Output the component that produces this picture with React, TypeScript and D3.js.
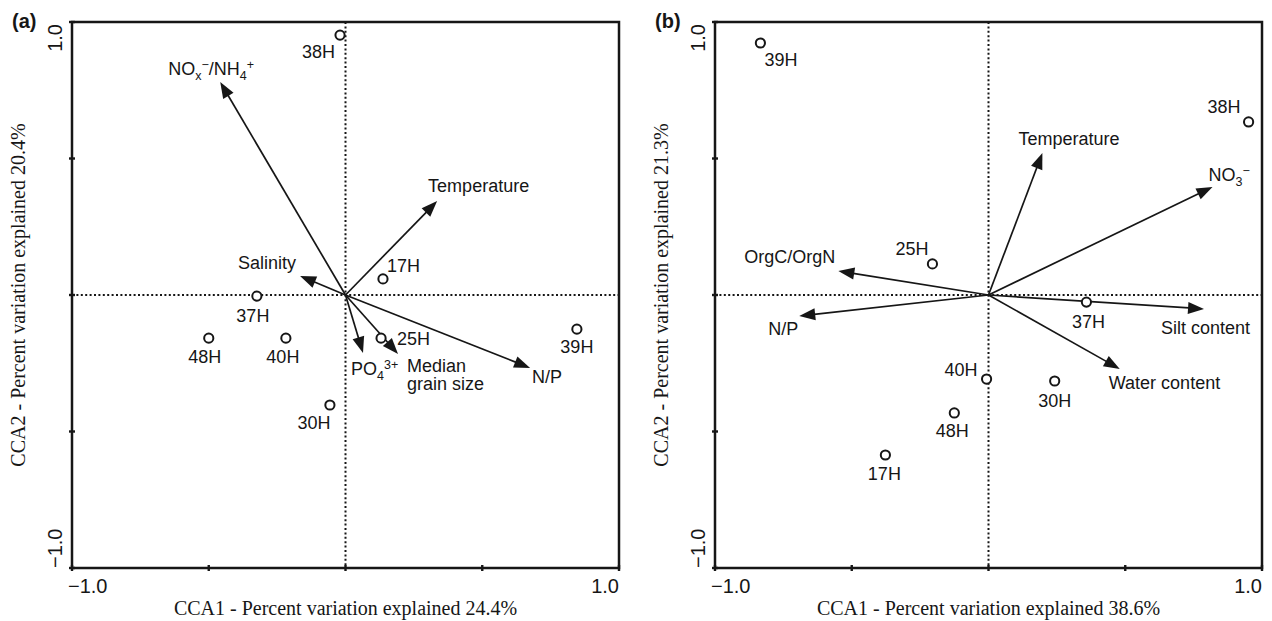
import React from 'react';
import * as d3 from 'd3';

// ---- data ----
const sitesA = ['38H', '17H', '37H', '48H', '40H', '30H', '25H', '39H'];
const siteXA = [-0.02, 0.137, -0.324, -0.5, -0.218, -0.057, 0.13, 0.846];
const siteYA = [0.952, 0.059, -0.004, -0.158, -0.158, -0.403, -0.158, -0.125];

const envA = ['NO_{x}^{−}/NH_{4}^{+}', 'Temperature', 'Salinity', 'PO_{4}^{3+}', 'Median|grain size', 'N/P'];
const envXA = [-0.458, 0.335, -0.166, 0.064, 0.192, 0.675];
const envYA = [0.78, 0.344, 0.07, -0.212, -0.216, -0.267];

const sitesB = ['39H', '38H', '25H', '37H', '40H', '30H', '48H', '17H'];
const siteXB = [-0.834, 0.951, -0.205, 0.358, -0.007, 0.242, -0.125, -0.377];
const siteYB = [0.923, 0.634, 0.114, -0.026, -0.308, -0.315, -0.432, -0.586];

const envB = ['Temperature', 'NO_{3}^{−}', 'OrgC/OrgN', 'N/P', 'Silt content', 'Water content'];
const envXB = [0.197, 0.819, -0.549, -0.692, 0.788, 0.48];
const envYB = [0.52, 0.396, 0.088, -0.077, -0.051, -0.271];

const tickValues = [-1, -0.5, 0, 0.5, 1];
const tickLabels = ['−1.0', '1.0'];

// label placement: [dx, dy, anchor] in pixels from the mark
type Place = [number, number, 'start' | 'middle' | 'end'];
const sitePlaceA: Place[] = [[-5, 23, 'end'], [4, -7, 'start'], [-4, 26, 'middle'], [-4, 25, 'middle'], [-3, 25, 'middle'], [-16, 24, 'middle'], [16, 7, 'start'], [0, 24, 'middle']];
const envPlaceA: Place[] = [[-52, -7, 'start'], [-9, -9, 'start'], [-4, -7, 'end'], [-12, 22, 'start'], [9, 18, 'start'], [2, 15, 'start']];
const sitePlaceB: Place[] = [[4, 23, 'start'], [-8, -9, 'end'], [-4, -9, 'end'], [2, 26, 'middle'], [-9, -3, 'end'], [0, 26, 'middle'], [-2, 24, 'middle'], [-1, 25, 'middle']];
const envPlaceB: Place[] = [[-24, -8, 'start'], [-4, -6, 'start'], [-3, -8, 'end'], [-31, 19, 'start'], [-43, 25, 'start'], [-11, 20, 'start']];

const SANS = '"Liberation Sans", Arial, sans-serif';
const SERIF = '"Liberation Serif", "Times New Roman", serif';
const INK = '#161616';
const SIZE = 547;
const TOP = 22;
const LABEL = 18;

// turns "NO_{x}^{−}" into tspans with sub/superscripts
const RichLine = ({ s }: { s: string }) => {
  const parts: { t: string; k: number }[] = [];
  const re = /([_^])\{([^}]*)\}|([^_^]+)/g;
  let m;
  while ((m = re.exec(s))) {
    if (m[3]) parts.push({ t: m[3], k: 0 });
    else parts.push({ t: m[2], k: m[1] === '_' ? 1 : -1 });
  }
  let level = 0;
  return (
    <>
      {parts.map((p, i) => {
        const target = p.k === 1 ? 5 : p.k === -1 ? -6 : 0;
        const dy = target - level;
        level = target;
        return (
          <tspan key={i} dy={dy} fontSize={p.k ? 12.5 : undefined}>
            {p.t}
          </tspan>
        );
      })}
    </>
  );
};

const Panel = ({ left, tag, xTitle, yTitle, sites, sx, sy, env, ex, ey, sitePlace, envPlace }: any) => {
  const x = d3.scaleLinear().domain([-1, 1]).range([left, left + SIZE]);
  const y = d3.scaleLinear().domain([-1, 1]).range([TOP + SIZE - 1, TOP]);
  const x0 = x(0);
  const y0 = y(0);
  const bottom = y(-1);
  const right = x(1);

  const arrows = env.map((name: string, i: number) => {
    const tx = x(ex[i]);
    const ty = y(ey[i]);
    const len = Math.hypot(tx - x0, ty - y0);
    const ux = (tx - x0) / len;
    const uy = (ty - y0) / len;
    const L = 16;
    const W = 6;
    const bx = tx - L * ux;
    const by = ty - L * uy;
    const head = [
      [tx, ty],
      [bx - W * uy, by + W * ux],
      [bx + W * uy, by - W * ux],
    ];
    const [dx, dy, anchor] = envPlace[i];
    const lines = name.split('|');
    return (
      <g key={name}>
        <line x1={x0} y1={y0} x2={bx + ux} y2={by + uy} stroke={INK} strokeWidth={1.7} />
        <polygon points={head.map((p) => p.join(',')).join(' ')} fill={INK} />
        <text x={tx + dx} y={ty + dy} textAnchor={anchor} fontSize={LABEL} fontFamily={SANS} fill={INK}>
          {lines.length === 1 ? (
            <RichLine s={lines[0]} />
          ) : (
            lines.map((l, j) => (
              <tspan key={j} x={tx + dx} dy={j === 0 ? 0 : 18}>
                {l}
              </tspan>
            ))
          )}
        </text>
      </g>
    );
  });

  return (
    <g>
      {/* dotted zero lines */}
      <line x1={left} x2={right} y1={y0} y2={y0} stroke={INK} strokeWidth={2} strokeDasharray="2,2.4" />
      <line x1={x0} x2={x0} y1={TOP} y2={bottom} stroke={INK} strokeWidth={2} strokeDasharray="2,2.4" />

      {/* frame */}
      <rect x={left} y={TOP} width={SIZE} height={bottom - TOP} fill="none" stroke={INK} strokeWidth={2.5} />

      {/* ticks */}
      {tickValues.map((v) => (
        <g key={v}>
          <line x1={x(v)} x2={x(v)} y1={bottom - 3} y2={bottom + 3} stroke={INK} strokeWidth={2.4} />
          <line x1={left - 3} x2={left + 3} y1={y(v)} y2={y(v)} stroke={INK} strokeWidth={2.4} />
        </g>
      ))}

      {/* tick labels */}
      <text x={left - 4} y={bottom + 25} fontSize={20} fontFamily={SANS} fill={INK}>{tickLabels[0]}</text>
      <text x={right} y={bottom + 25} fontSize={20} fontFamily={SANS} fill={INK} textAnchor="end">{tickLabels[1]}</text>
      <text transform={`translate(${left - 10},${bottom}) rotate(-90)`} fontSize={20} fontFamily={SANS} fill={INK}>{tickLabels[0]}</text>
      <text transform={`translate(${left - 10},${TOP + 2}) rotate(-90)`} fontSize={20} fontFamily={SANS} fill={INK} textAnchor="end">{tickLabels[1]}</text>

      {/* axis titles */}
      <text x={x0} y={bottom + 47} textAnchor="middle" fontSize={20} fontFamily={SERIF} fill={INK}>{xTitle}</text>
      <text transform={`translate(${left - 47},${y0}) rotate(-90)`} textAnchor="middle" fontSize={20} fontFamily={SERIF} fill={INK}>{yTitle}</text>

      {/* panel tag */}
      <text x={left - 60} y={28} fontSize={20} fontWeight="bold" fontFamily={SANS} fill={INK}>{tag}</text>

      {arrows}

      {/* sites */}
      {sites.map((s: string, i: number) => {
        const cx = x(sx[i]);
        const cy = y(sy[i]);
        const [dx, dy, anchor] = sitePlace[i];
        return (
          <g key={s}>
            <circle cx={cx} cy={cy} r={4.6} fill="white" stroke={INK} strokeWidth={2} />
            <text x={cx + dx} y={cy + dy} textAnchor={anchor} fontSize={LABEL} fontFamily={SANS} fill={INK}>{s}</text>
          </g>
        );
      })}
    </g>
  );
};

const App = () => (
  <div style={{ position: 'absolute', left: 0, top: 0 }}>
    <svg width={1272} height={621} style={{ display: 'block', background: 'white' }}>
      <Panel
        left={72}
        tag="(a)"
        xTitle="CCA1 - Percent variation explained 24.4%"
        yTitle="CCA2 - Percent variation explained 20.4%"
        sites={sitesA} sx={siteXA} sy={siteYA}
        env={envA} ex={envXA} ey={envYA}
        sitePlace={sitePlaceA} envPlace={envPlaceA}
      />
      <Panel
        left={715}
        tag="(b)"
        xTitle="CCA1 - Percent variation explained 38.6%"
        yTitle="CCA2 - Percent variation explained 21.3%"
        sites={sitesB} sx={siteXB} sy={siteYB}
        env={envB} ex={envXB} ey={envYB}
        sitePlace={sitePlaceB} envPlace={envPlaceB}
      />
    </svg>
  </div>
);

export default App;
